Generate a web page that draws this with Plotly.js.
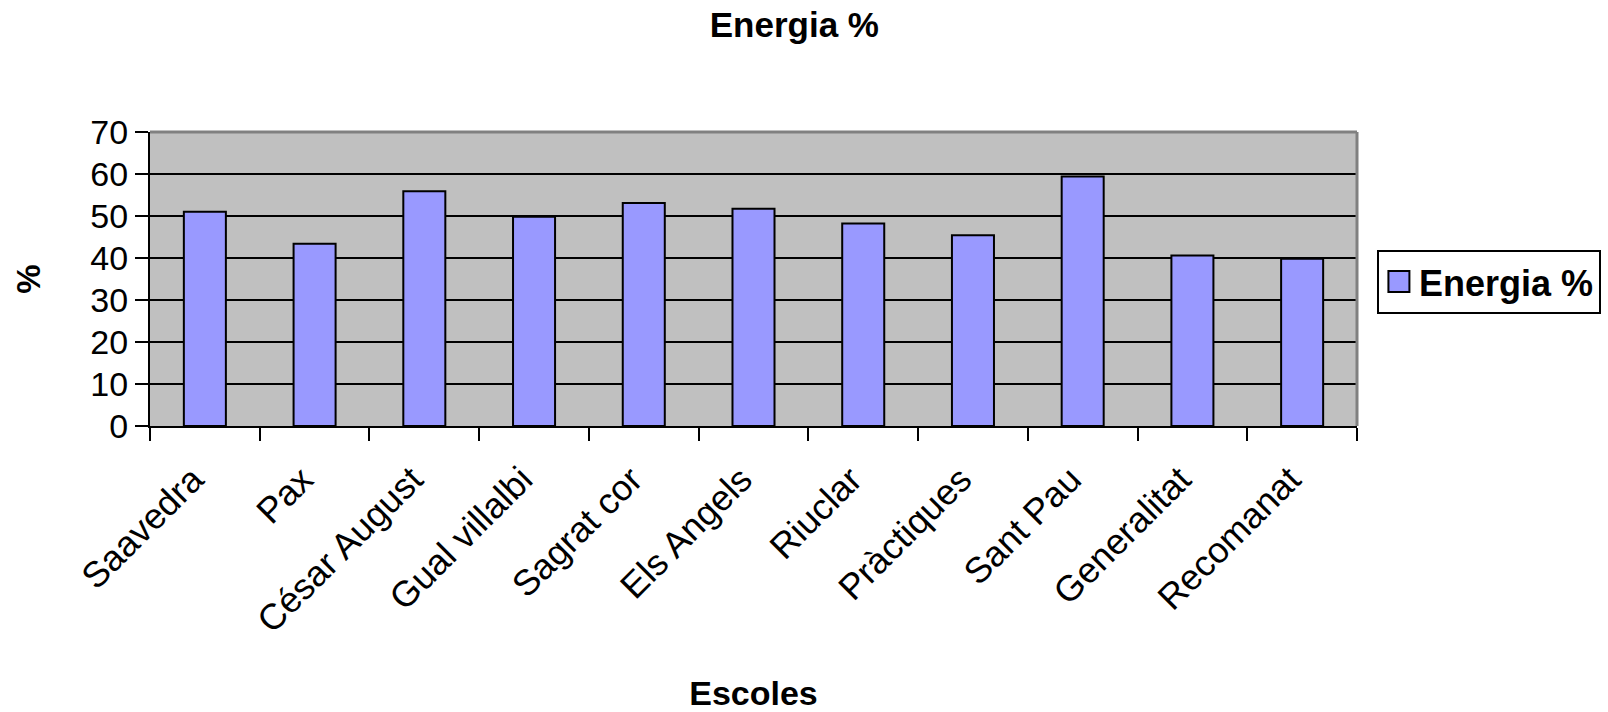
<!DOCTYPE html>
<html>
<head>
<meta charset="utf-8">
<script src="https://cdn.plot.ly/plotly-3.0.1.min.js"></script>
<style>html,body{margin:0;padding:0;background:#fff;}</style>
</head>
<body>
<div id="chart" style="width:1608px;height:712px;"></div>
<script>
const categories = ["Saavedra", "Pax", "César August", "Gual villalbi", "Sagrat cor", "Els Angels", "Riuclar", "Pràctiques", "Sant Pau", "Generalitat", "Recomanat"];
const energia = [51, 43.4, 55.9, 49.8, 53.1, 51.7, 48.2, 45.4, 59.4, 40.6, 39.8];
const yTicks = [0, 10, 20, 30, 40, 50, 60, 70];

const FONT = "Liberation Sans, Arial, sans-serif";

const trace = {
  type: 'bar',
  x: categories,
  y: energia,
  name: 'Energia %',
  marker: { color: '#9999FF', line: { color: '#000000', width: 2 } },
  hoverinfo: 'x+y'
};

const layout = {
  width: 1608,
  height: 712,
  autosize: false,
  margin: { l: 150, r: 251, t: 132, b: 286, pad: 0, autoexpand: false },
  paper_bgcolor: '#FFFFFF',
  plot_bgcolor: '#C0C0C0',
  font: { family: FONT, color: '#000000' },
  bargap: 0.617,
  title: {
    text: '<b>Energia %</b>',
    font: { family: FONT, size: 35, color: '#000' },
    x: 0.494, xref: 'container', xanchor: 'center',
    y: 0.965, yref: 'container', yanchor: 'middle'
  },
  xaxis: {
    type: 'category',
    tickson: 'boundaries',
    ticks: 'outside', ticklen: 13, tickwidth: 2, tickcolor: '#000',
    tickangle: -45,
    ticklabelstandoff: 16,
    ticklabelshift: -12,
    tickfont: { family: FONT, size: 36, color: '#000' },
    showline: true, linecolor: '#000', linewidth: 2,
    showgrid: false,
    title: { text: '<b>Escoles</b>', font: { family: FONT, size: 34, color: '#000' }, standoff: 53 },
    automargin: false
  },
  yaxis: {
    range: [0, 70],
    tickvals: yTicks,
    ticktext: yTicks.map(String),
    ticks: 'outside', ticklen: 13, tickwidth: 2, tickcolor: '#000',
    tickfont: { family: FONT, size: 34, color: '#000' },
    showline: true, linecolor: '#000', linewidth: 2,
    showgrid: true, gridcolor: '#000', gridwidth: 2,
    zeroline: false,
    title: { text: '<b>%</b>', font: { family: FONT, size: 33, color: '#000' }, standoff: 40 },
    automargin: false
  },
  showlegend: true,
  legend: {
    x: 1.0165, xanchor: 'left', xref: 'paper',
    y: 0.60, yanchor: 'top', yref: 'paper',
    bgcolor: '#FFFFFF', bordercolor: '#000', borderwidth: 2,
    font: { family: FONT, size: 36, color: '#000', weight: 'bold' },
    itemclick: false, itemdoubleclick: false
  },
  shapes: [
    { type: 'line', xref: 'paper', yref: 'paper', x0: 0, x1: 1, y0: 1, y1: 1, line: { color: '#808080', width: 3 }, layer: 'above' },
    { type: 'line', xref: 'paper', yref: 'paper', x0: 1, x1: 1, y0: 0, y1: 1, line: { color: '#808080', width: 3 }, layer: 'above' }
  ]
};

Plotly.newPlot('chart', [trace], layout, { staticPlot: true, displayModeBar: false }).then(function (gd) {
  // enlarge the legend swatch to look like the original
  gd.querySelectorAll('.legendpoints path').forEach(function (p) {
    const t = p.getAttribute('transform') || '';
    p.setAttribute('transform', t + ' scale(1.75)');
    p.setAttribute('vector-effect', 'non-scaling-stroke');
  });
});
</script>
</body>
</html>
